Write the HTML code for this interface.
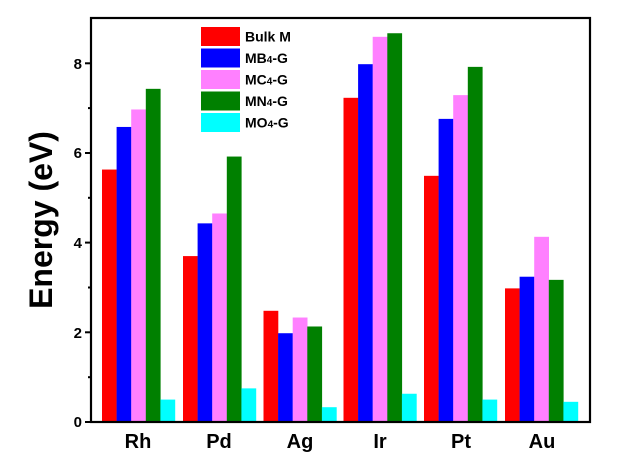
<!DOCTYPE html>
<html><head><meta charset="utf-8"><style>
html,body{margin:0;padding:0;background:#fff;}
svg{display:block;font-family:"Liberation Sans",Arial,sans-serif;font-weight:bold;}
</style></head><body>
<svg width="641" height="467" viewBox="0 0 641 467" xmlns="http://www.w3.org/2000/svg">
<g>
<!-- Rh -->
<rect x="102" y="169.55" width="14.8" height="252.45" fill="#ff0000"/>
<rect x="116.6" y="126.95" width="14.8" height="295.05" fill="#0000ff"/>
<rect x="131.2" y="109.47" width="14.8" height="312.53" fill="#ff80ff"/>
<rect x="145.8" y="88.84" width="14.8" height="333.16" fill="#008000"/>
<rect x="160.4" y="399.58" width="14.8" height="22.42" fill="#00ffff"/>
<!-- Pd -->
<rect x="183" y="256.09" width="14.8" height="165.91" fill="#ff0000"/>
<rect x="197.6" y="223.36" width="14.8" height="198.64" fill="#0000ff"/>
<rect x="212.2" y="213.49" width="14.8" height="208.51" fill="#ff80ff"/>
<rect x="226.8" y="156.55" width="14.8" height="265.45" fill="#008000"/>
<rect x="241.4" y="388.37" width="14.8" height="33.63" fill="#00ffff"/>
<!-- Ag -->
<rect x="263.5" y="310.8" width="14.8" height="111.2" fill="#ff0000"/>
<rect x="278.1" y="333.22" width="14.8" height="88.78" fill="#0000ff"/>
<rect x="292.7" y="317.52" width="14.8" height="104.48" fill="#ff80ff"/>
<rect x="307.3" y="326.49" width="14.8" height="95.51" fill="#008000"/>
<rect x="321.9" y="407.2" width="14.8" height="14.8" fill="#00ffff"/>
<!-- Ir -->
<rect x="343.5" y="97.81" width="14.8" height="324.19" fill="#ff0000"/>
<rect x="358.1" y="64.18" width="14.8" height="357.82" fill="#0000ff"/>
<rect x="372.7" y="36.82" width="14.8" height="385.18" fill="#ff80ff"/>
<rect x="387.3" y="33.24" width="14.8" height="388.76" fill="#008000"/>
<rect x="401.9" y="393.75" width="14.8" height="28.25" fill="#00ffff"/>
<!-- Pt -->
<rect x="424" y="175.83" width="14.8" height="246.17" fill="#ff0000"/>
<rect x="438.6" y="118.88" width="14.8" height="303.12" fill="#0000ff"/>
<rect x="453.2" y="95.12" width="14.8" height="326.88" fill="#ff80ff"/>
<rect x="467.8" y="66.87" width="14.8" height="355.13" fill="#008000"/>
<rect x="482.4" y="399.58" width="14.8" height="22.42" fill="#00ffff"/>
<!-- Au -->
<rect x="505" y="288.38" width="14.8" height="133.62" fill="#ff0000"/>
<rect x="519.6" y="276.72" width="14.8" height="145.28" fill="#0000ff"/>
<rect x="534.2" y="236.81" width="14.8" height="185.19" fill="#ff80ff"/>
<rect x="548.8" y="279.86" width="14.8" height="142.14" fill="#008000"/>
<rect x="563.4" y="401.82" width="14.8" height="20.18" fill="#00ffff"/>
</g>
<rect x="91" y="18" width="499" height="404" fill="none" stroke="#000" stroke-width="2.2"/>
<g stroke="#000" stroke-width="2">
<line x1="85" y1="422" x2="91" y2="422"/><line x1="85" y1="332.3" x2="91" y2="332.3"/>
<line x1="85" y1="242.6" x2="91" y2="242.6"/><line x1="85" y1="153" x2="91" y2="153"/>
<line x1="85" y1="63.3" x2="91" y2="63.3"/>
<line x1="88" y1="377.2" x2="91" y2="377.2"/><line x1="88" y1="287.5" x2="91" y2="287.5"/>
<line x1="88" y1="197.8" x2="91" y2="197.8"/><line x1="88" y1="108.1" x2="91" y2="108.1"/>
</g>
<g font-size="15" text-anchor="end">
<text x="82" y="427">0</text><text x="82" y="338">2</text><text x="82" y="248">4</text>
<text x="82" y="158">6</text><text x="82" y="69">8</text>
</g>
<text transform="translate(52,220) rotate(-90)" font-size="32" text-anchor="middle">Energy (eV)</text>
<g font-size="20" text-anchor="middle">
<text x="138" y="448">Rh</text><text x="219" y="448">Pd</text><text x="300" y="448">Ag</text>
<text x="380" y="448">Ir</text><text x="461" y="448">Pt</text><text x="542" y="448">Au</text>
</g>
<g font-size="14">
<rect x="201" y="27" width="39" height="19" fill="#ff0000"/>
<rect x="201" y="48.5" width="39" height="19" fill="#0000ff"/>
<rect x="201" y="70" width="39" height="19" fill="#ff80ff"/>
<rect x="201" y="91.5" width="39" height="19" fill="#008000"/>
<rect x="201" y="113" width="39" height="19" fill="#00ffff"/>
<text x="245" y="41.5">Bulk M</text>
<text x="245" y="63">MB<tspan font-size="10">4</tspan>-G</text>
<text x="245" y="84.5">MC<tspan font-size="10">4</tspan>-G</text>
<text x="245" y="106">MN<tspan font-size="10">4</tspan>-G</text>
<text x="245" y="127.5">MO<tspan font-size="10">4</tspan>-G</text>
</g>
</svg>
</body></html>
